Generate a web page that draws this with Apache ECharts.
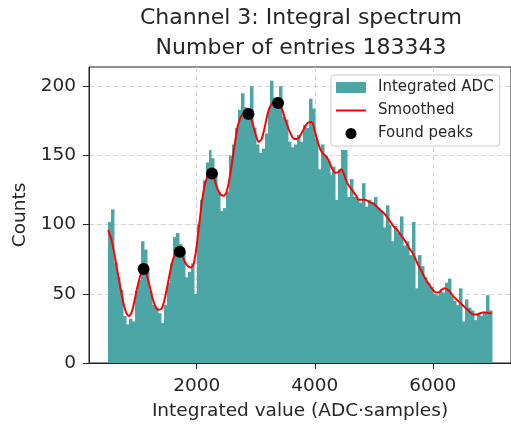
<!DOCTYPE html>
<html>
<head>
<meta charset="utf-8">
<script src="https://cdn.jsdelivr.net/npm/echarts@6/dist/echarts.min.js"></script>
<style>html,body{margin:0;padding:0;background:#fff;}#c{width:511px;height:429px;}</style>
</head>
<body>
<div id="c"></div>
<script>
// Histogram bins (centres, width 50) and counts
const binCenters = [];
for (let c = 525; c <= 6975; c += 50) binCenters.push(c);
const binWidth = 50;
const counts = [
  102,111,72,62,53,34,28,32,30,52,
  60,88,82,66,52,42,40,36,29,42,
  58,72,91,94,86,80,62,66,72,50,
  100,118,132,145,154,148,138,124,110,112,
  124,150,158,170,183,195,185,176,200,170,
  158,152,155,166,184,204,192,186,200,178,
  176,160,156,158,165,160,172,170,191,184,
  162,140,158,150,146,136,142,118,140,154,
  154,120,133,120,119,116,130,113,118,116,
  120,112,110,98,114,100,88,99,94,106,
  85,88,78,102,54,78,70,62,58,55,
  50,49,52,51,58,61,48,45,42,54,
  30,46,40,38,31,36,34,37,49,38
];
// Smoothed curve
const smoothX = [];
for (let x = 500; x <= 7000; x += 50) smoothX.push(x);
const smoothY = [
  96,90,80,68,56,45,37,34,37,46,
  56,64,68,64,56,47,41,38.5,39,45,
  55,66,75,79,80.5,78,73,70,69,72,
  85,103,120,131,136,137,133,126,122,121,
  123,132,145,160,172,178,180,180,179,173,
  165,160,162,170,180,186,188,188,187,183,
  176,170,165,162,162,164,168,172,174,174,
  168,160,154,151,149,145,140,137.5,138,140,
  136,130,127,124,121,118,118,118,117,116,
  115,113,111,109,107,104,101,98,96,93,
  90,87,83,80,76,71,67,63,59,56,
  53,51,51,53,54,53,51,48,46,44,
  42,40,38,36,35,35,36,36.5,36.5,36,
  36
];
// Found peaks
const peakX = [1100, 1713, 2258, 2877, 3378];
const peakY = [68, 80.5, 137, 180, 188];

const xTicks = [2000, 4000, 6000];
const yTicks = [0, 50, 100, 150, 200];

const histData = binCenters.map((c, i) => [c - binWidth / 2, c + binWidth / 2, counts[i]]);
const FONT = 'DejaVu Sans';
const TXT = '#262626';
const TEAL = '#4da6a6';

const chart = echarts.init(document.getElementById('c'), null, {renderer: 'canvas'});
chart.setOption({
  animation: false,
  backgroundColor: '#fff',
  graphic: [{
    type: 'text', x: 301, y: 3, z: 10,
    style: {
      text: 'Channel 3: Integral spectrum\nNumber of entries 183343',
      textAlign: 'center', textVerticalAlign: 'top',
      fontFamily: FONT, fontSize: 22, lineHeight: 30, fill: TXT
    }
  }],
  grid: {left: 89, top: 67, right: -2, bottom: 66, show: true, borderColor: '#222', borderWidth: 1, backgroundColor: 'transparent'},
  legend: {
    orient: 'vertical', left: 331, top: 75,
    padding: [5, 6, 5, 5],
    itemWidth: 30, itemHeight: 11, itemGap: 8,
    backgroundColor: 'rgba(255,255,255,0.85)', borderColor: '#ccc', borderWidth: 1, borderRadius: 3,
    textStyle: {fontFamily: FONT, fontSize: 15, color: TXT, lineHeight: 14, padding: [0, 0, 0, 7]},
    data: [
      {name: 'Integrated ADC', icon: 'rect', itemStyle: {color: TEAL}},
      {name: 'Smoothed', icon: 'path://M0 0H30V2H0Z', itemStyle: {color: '#ff0000'}},
      {name: 'Found peaks', icon: 'circle', itemStyle: {color: '#000', opacity: 1}}
    ]
  },
  xAxis: {
    type: 'value', min: 175, max: 7325,
    name: 'Integrated value (ADC·samples)', nameLocation: 'middle', nameGap: 39,
    nameTextStyle: {fontFamily: FONT, fontSize: 18.5, color: TXT},
    axisLine: {show: true, lineStyle: {color: '#222', width: 1}},
    axisTick: {show: true, inside: false, length: 6, customValues: xTicks, lineStyle: {color: '#222'}},
    axisLabel: {customValues: xTicks, margin: 14, fontFamily: FONT, fontSize: 18.5, color: TXT,
      formatter: v => String(v)},
    splitLine: {show: true, lineStyle: {color: '#d4d4d4', type: [5, 3], width: 1}}
  },
  yAxis: {
    type: 'value', min: 0, max: 214,
    name: 'Counts', nameLocation: 'middle', nameGap: 57, nameRotate: 90,
    nameTextStyle: {fontFamily: FONT, fontSize: 18.5, color: TXT},
    axisLine: {show: true, lineStyle: {color: '#222', width: 1}},
    axisTick: {show: true, inside: false, length: 6, customValues: yTicks, lineStyle: {color: '#222'}},
    axisLabel: {customValues: yTicks, margin: 13, fontFamily: FONT, fontSize: 18.5, color: TXT,
      formatter: v => String(v)},
    splitLine: {show: true, lineStyle: {color: '#d4d4d4', type: [5, 3], width: 1}}
  },
  series: [
    {
      name: 'Integrated ADC', type: 'custom', z: 2,
      itemStyle: {color: TEAL},
      data: histData,
      encode: {x: [0, 1], y: 2},
      renderItem: function (params, api) {
        const p0 = api.coord([api.value(0), api.value(2)]);
        const p1 = api.coord([api.value(1), 0]);
        const x0 = Math.round(p0[0]);
        const x1 = Math.round(p1[0]);
        return {
          type: 'rect',
          shape: {x: x0, y: p0[1], width: x1 - x0 + 0.5, height: p1[1] - p0[1]},
          style: {fill: TEAL}
        };
      }
    },
    {
      name: 'Smoothed', type: 'line', z: 3, symbol: 'none', smooth: 0.3,
      lineStyle: {color: '#ff0000', width: 2}, itemStyle: {color: '#ff0000'},
      data: smoothX.map((x, i) => [x, smoothY[i]])
    },
    {
      name: 'Found peaks', type: 'scatter', z: 4, symbolSize: 12,
      itemStyle: {color: '#000', opacity: 1},
      data: peakX.map((x, i) => [x, peakY[i]])
    }
  ]
});
</script>
</body>
</html>
